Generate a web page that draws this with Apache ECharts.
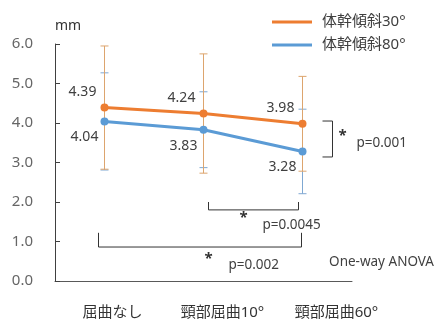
<!DOCTYPE html>
<html><head><meta charset="utf-8">
<script src="https://cdn.jsdelivr.net/npm/echarts@6/dist/echarts.min.js"></script>
<style>html,body{margin:0;padding:0;background:#fff}#c{width:437px;height:328px}</style>
</head><body><div id="c"></div>
<script>
// ---- data ----
const categories = ['屈曲なし', '頸部屈曲10°', '頸部屈曲60°'];
const seriesNames = ['体幹傾斜30°', '体幹傾斜80°'];
const values30 = [4.39, 4.24, 3.98];
const values80 = [4.04, 3.83, 3.28];
const sd30 = [1.56, 1.51, 1.20];
const sd80 = [1.23, 0.96, 1.07];
const yTicks = [0, 1, 2, 3, 4, 5, 6];
// significance brackets: from category, to category, lower value, upper value
const bracketFrom = [2, 1, 0];
const bracketTo = [2, 2, 2];
const bracketLow = [3.14, 1.80, 0.86];
const bracketHigh = [4.05, 2.00, 1.22];
const bracketStars = ['*', '*', '*'];
const bracketP = ['p=0.001', 'p=0.0045', 'p=0.002'];
const testNote = 'One-way ANOVA';

// ---- layout/style (not data) ----
const FONT = '"Noto Sans", "Noto Sans CJK JP", sans-serif';
const TXT = '#404040';
const C30 = '#ED7D31', C80 = '#5B9BD5';
const E30 = '#DDA56E', E80 = '#7FA8D2';
// pixel offsets for bracket geometry / annotation text
const bracketLayout = [
  { dx1: 30, dx2: 30, star: [10, -3], p: [24, 4] },
  { dx1: 5, dx2: -4, star: [35, 8], p: [54, 15] },
  { dx1: -6, dx2: -1, star: [110, 12], p: [130, 18] }
];

function errData(v, s) { return v.map((x, i) => [i, x - s[i], x + s[i]]); }
function errSeries(v, s, color, z) {
  return {
    type: 'custom', z: z, silent: true,
    data: errData(v, s),
    renderItem: function (params, api) {
      const lo = api.coord([api.value(0), api.value(1)]);
      const hi = api.coord([api.value(0), api.value(2)]);
      const st = { stroke: color, lineWidth: 1 };
      const w = 4;
      return { type: 'group', children: [
        { type: 'line', shape: { x1: lo[0], y1: lo[1], x2: hi[0], y2: hi[1] }, style: st },
        { type: 'line', shape: { x1: lo[0] - w, y1: lo[1], x2: lo[0] + w, y2: lo[1] }, style: st },
        { type: 'line', shape: { x1: hi[0] - w, y1: hi[1], x2: hi[0] + w, y2: hi[1] }, style: st }
      ]};
    }
  };
}

const bracketData = bracketFrom.map((f, i) => [f, bracketTo[i], bracketLow[i], bracketHigh[i]]);

const chart = echarts.init(document.getElementById('c'));
chart.setOption({
  animation: false,
  textStyle: { fontFamily: FONT },
  grid: { left: 55, right: 85, top: 44, bottom: 47 },
  legend: {
    orient: 'vertical', left: 267, top: 9, itemWidth: 40, itemHeight: 3, itemGap: 7,
    icon: 'rect',
    textStyle: { fontSize: 15, color: TXT, padding: [0, 0, 0, 5], lineHeight: 16 },
    data: seriesNames
  },
  xAxis: {
    type: 'category', data: categories, boundaryGap: true,
    axisLine: { lineStyle: { color: '#595959', width: 1 } },
    axisTick: { show: false },
    axisLabel: {
      margin: 24, color: '#333', fontSize: 15, interval: 0,
      formatter: (v, i) => '{l' + i + '|' + v + '}',
      rich: {
        l0: { fontSize: 15, color: '#333', padding: [0, 0, 0, 16] },
        l1: { fontSize: 15, color: '#333', padding: [0, 0, 0, 38] },
        l2: { fontSize: 15, color: '#333', padding: [0, 0, 0, 68] }
      }
    }
  },
  yAxis: {
    type: 'value', min: yTicks[0], max: yTicks[yTicks.length - 1], interval: 1,
    name: 'mm', nameLocation: 'end', nameGap: 11,
    nameTextStyle: { align: 'left', fontSize: 14, color: '#333' },
    axisLine: { show: true, lineStyle: { color: '#404040', width: 1 } },
    axisTick: { show: true, inside: true, length: 5, lineStyle: { color: '#404040' } },
    splitLine: { show: false },
    axisLabel: { margin: 22, color: '#666', fontSize: 15, formatter: v => v.toFixed(1) }
  },
  graphic: [
    { type: 'text', right: 3, top: 255, style: { text: testNote, fontSize: 13.5, fill: TXT, fontFamily: FONT } }
  ],
  series: [
    errSeries(values80, sd80, E80, 1),
    errSeries(values30, sd30, E30, 2),
    {
      name: seriesNames[1], type: 'line', data: values80, z: 3,
      lineStyle: { color: C80, width: 3 }, itemStyle: { color: C80 },
      symbol: 'circle', symbolSize: 8,
      label: { show: true, position: 'bottom', offset: [-20, 0], fontSize: 14, color: TXT, formatter: p => p.value.toFixed(2) }
    },
    {
      name: seriesNames[0], type: 'line', data: values30, z: 4,
      lineStyle: { color: C30, width: 3 }, itemStyle: { color: C30 },
      symbol: 'circle', symbolSize: 8,
      label: { show: true, position: 'top', offset: [-22, 0], fontSize: 14, color: TXT, formatter: p => p.value.toFixed(2) }
    },
    {
      type: 'custom', silent: true, z: 5,
      data: bracketData,
      renderItem: function (params, api) {
        const i = params.dataIndex;
        const L = bracketLayout[i];
        const a = api.coord([api.value(0), api.value(3)]);
        const b = api.coord([api.value(1), api.value(2)]);
        const st = { stroke: '#333', lineWidth: 1, fill: null };
        let pts, ref;
        if (api.value(0) === api.value(1)) {
          const x = a[0] + L.dx1;
          pts = [[x - 10, a[1]], [x, a[1]], [x, b[1]], [x - 10, b[1]]];
          ref = [x, (a[1] + b[1]) / 2];
        } else {
          const x1 = a[0] + L.dx1, x2 = b[0] + L.dx2;
          pts = [[x1, a[1]], [x1, b[1]], [x2, b[1]], [x2, a[1]]];
          ref = [x1, b[1]];
        }
        return { type: 'group', children: [
          { type: 'polyline', shape: { points: pts }, style: st },
          { type: 'text', style: { text: bracketStars[i], x: ref[0] + L.star[0], y: ref[1] + L.star[1], fill: '#333', fontSize: 15, fontWeight: 'bold', fontFamily: FONT, align: 'center', verticalAlign: 'middle' } },
          { type: 'text', style: { text: bracketP[i], x: ref[0] + L.p[0], y: ref[1] + L.p[1], fill: TXT, fontSize: 13.5, fontFamily: FONT, align: 'left', verticalAlign: 'middle' } }
        ]};
      }
    }
  ]
});
</script>
</body></html>
